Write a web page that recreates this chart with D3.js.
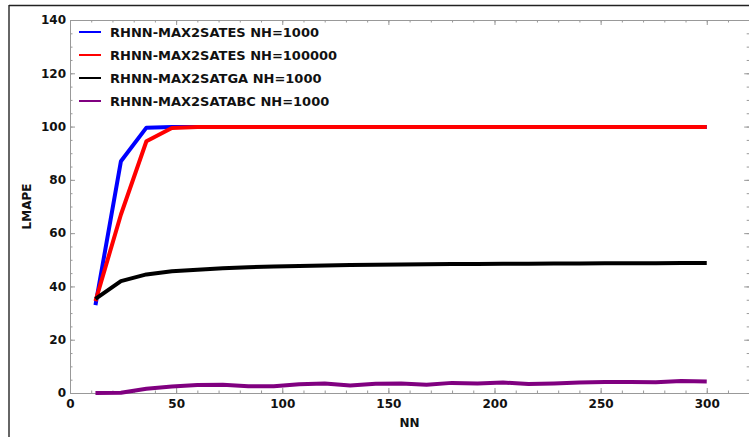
<!DOCTYPE html>
<html>
<head>
<meta charset="utf-8">
<script src="https://cdn.jsdelivr.net/npm/d3@7/dist/d3.min.js"></script>
<style>
    body { margin: 0; background: #fff; }
    svg { display: block; }
    text { font-family: "DejaVu Sans", sans-serif; font-weight: bold; fill: #111; }
</style>
</head>
<body>
<div id="chart"></div>
<script>

// x values (NN)
const nn = [12, 24, 36, 48, 60, 72, 84, 96, 108, 120, 132, 144, 156, 168, 180, 192, 204, 216, 228, 240, 252, 264, 276, 288, 300];

// LMAPE per series
const esSmall = [33, 87, 99.6, 99.8, 99.8, 99.8, 99.8, 99.8, 99.8, 99.8, 99.8, 99.8, 99.8, 99.8, 99.8, 99.8, 99.8, 99.8, 99.8, 99.8, 99.8, 99.8, 99.8, 99.8, 99.8];
const esLarge = [34.5, 67, 94.5, 99.5, 99.8, 99.8, 99.8, 99.8, 99.8, 99.8, 99.8, 99.8, 99.8, 99.8, 99.8, 99.8, 99.8, 99.8, 99.8, 99.8, 99.8, 99.8, 99.8, 99.8, 99.8];
const ga = [35.3, 42, 44.5, 45.7, 46.3, 46.8, 47.2, 47.5, 47.7, 47.9, 48.0, 48.1, 48.2, 48.3, 48.4, 48.4, 48.5, 48.5, 48.6, 48.6, 48.7, 48.7, 48.7, 48.8, 48.8];
const abc = [0, 0.1, 1.6, 2.4, 3.0, 3.1, 2.5, 2.5, 3.3, 3.6, 2.8, 3.5, 3.6, 3.1, 3.8, 3.6, 3.9, 3.4, 3.6, 3.9, 4.1, 4.1, 4.0, 4.5, 4.3];

const seriesNames = ["RHNN-MAX2SATES NH=1000", "RHNN-MAX2SATES NH=100000", "RHNN-MAX2SATGA NH=1000", "RHNN-MAX2SATABC NH=1000"];
const seriesColors = ["#0000ff", "#ff0000", "#000000", "#800080"];
const seriesValues = [esSmall, esLarge, ga, abc];

const xTicks = [0, 50, 100, 150, 200, 250, 300];
const yTicks = [0, 20, 40, 60, 80, 100, 120, 140];

const W = 749, H = 437;
const margin = { top: 20, right: 0, bottom: 44, left: 70 };

const svg = d3.select("#chart").append("svg")
    .attr("width", W)
    .attr("height", H);

// outer frame of the screenshot
svg.append("line").attr("x1", 9).attr("x2", 9).attr("y1", 5).attr("y2", H)
    .attr("stroke", "#666").attr("stroke-width", 2);
svg.append("line").attr("x1", 9).attr("x2", W).attr("y1", 5.5).attr("y2", 5.5)
    .attr("stroke", "#222").attr("stroke-width", 1.5);

const x = d3.scaleLinear().domain([0, 320]).range([margin.left, 749.2]);
const y = d3.scaleLinear().domain([0, 140]).range([H - margin.bottom, margin.top]);

const axisColor = "#999";

function styleAxis(g) {
    g.select(".domain").attr("stroke", axisColor);
    g.selectAll(".tick line").attr("stroke", axisColor);
    g.selectAll("text").style("font-size", "12px").attr("fill", "#111");
}

// minor ticks
const xMinor = d3.range(0, 321, 10);
const yMinor = d3.range(0, 141, 5);

svg.append("g").attr("transform", `translate(0,${y(0)})`)
    .call(d3.axisBottom(x).tickValues(xMinor).tickSize(-2.5).tickFormat("").tickSizeOuter(0))
    .call(styleAxis);
svg.append("g").attr("transform", `translate(0,${y(140)})`)
    .call(d3.axisTop(x).tickValues(xMinor).tickSize(-2.5).tickFormat("").tickSizeOuter(0))
    .call(styleAxis);
svg.append("g").attr("transform", `translate(${x(0)},0)`)
    .call(d3.axisLeft(y).tickValues(yMinor).tickSize(-2.5).tickFormat("").tickSizeOuter(0))
    .call(styleAxis);
svg.append("g").attr("transform", `translate(${x(320)},0)`)
    .call(d3.axisRight(y).tickValues(yMinor).tickSize(-2.5).tickFormat("").tickSizeOuter(0))
    .call(styleAxis);

// major ticks + labels
svg.append("g").attr("transform", `translate(0,${y(0)})`)
    .call(d3.axisBottom(x).tickValues(xTicks).tickSize(-5).tickPadding(6).tickSizeOuter(0))
    .call(styleAxis);
svg.append("g").attr("transform", `translate(0,${y(140)})`)
    .call(d3.axisTop(x).tickValues(xTicks).tickSize(-5).tickFormat("").tickSizeOuter(0))
    .call(styleAxis);
svg.append("g").attr("transform", `translate(${x(0)},0)`)
    .call(d3.axisLeft(y).tickValues(yTicks).tickSize(-5).tickPadding(4).tickSizeOuter(0))
    .call(styleAxis);
svg.append("g").attr("transform", `translate(${x(320)},0)`)
    .call(d3.axisRight(y).tickValues(yTicks).tickSize(-5).tickFormat("").tickSizeOuter(0))
    .call(styleAxis);

// axis titles
svg.append("text")
    .attr("x", (x(0) + x(320)) / 2)
    .attr("y", 427)
    .attr("text-anchor", "middle")
    .style("font-size", "12px")
    .text("NN");

svg.append("text")
    .attr("transform", `translate(31,${(y(0) + y(140)) / 2}) rotate(-90)`)
    .attr("text-anchor", "middle")
    .style("font-size", "12px")
    .text("LMAPE");

// series lines
const line = d3.line()
    .x((d, i) => x(nn[i]))
    .y(d => y(d));

seriesValues.forEach((vals, i) => {
    svg.append("path")
        .datum(vals)
        .attr("fill", "none")
        .attr("stroke", seriesColors[i])
        .attr("stroke-width", 4)
        .attr("stroke-linejoin", "round")
        .attr("d", line);
});

// legend
let legend = svg.append("g").attr("transform", "translate(79,32)");

seriesNames.forEach((name, i) => {
    legend.append("line")
        .attr("x1", 0).attr("x2", 22)
        .attr("y1", i * 23).attr("y2", i * 23)
        .attr("stroke", seriesColors[i])
        .attr("stroke-width", 2);

    legend.append("text")
        .attr("x", 31)
        .attr("y", i * 23)
        .attr("dy", "0.36em")
        .style("font-size", "13px")
        .text(name);
});

</script>
</body>
</html>
